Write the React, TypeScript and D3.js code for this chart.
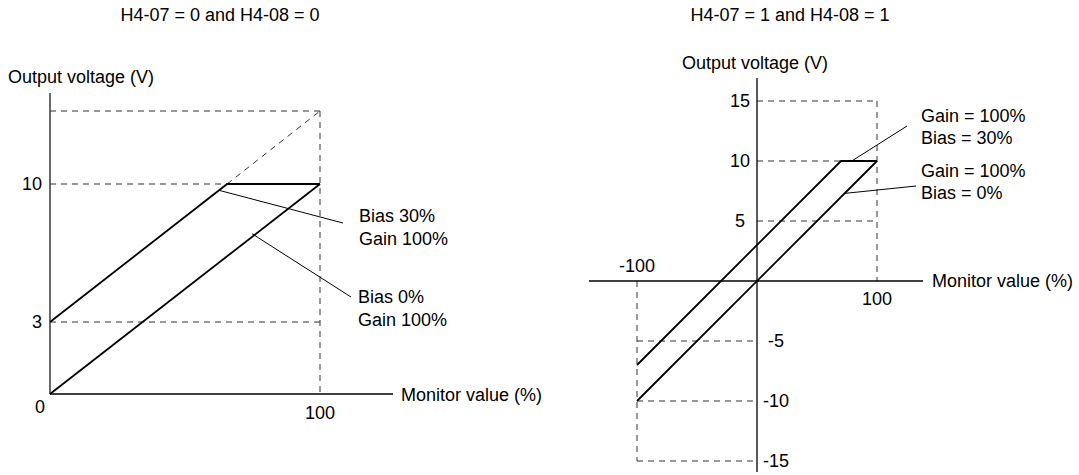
import React from "react";
import * as d3 from "d3";

// ---------- Data ----------
const leftTitle = "H4-07 = 0 and H4-08 = 0";
const rightTitle = "H4-07 = 1 and H4-08 = 1";
const yAxisLabel = "Output voltage (V)";
const xAxisLabel = "Monitor value (%)";

// Left chart (schematic, unipolar)
const leftYDomain = [0, 3, 10, 13];
const leftYTicks = [3, 10];
const leftXTickLabel = [100];
const leftBias0 = [
  { x: 0, y: 0 },
  { x: 100, y: 10 },
];
const leftBias30 = [
  { x: 0, y: 3 },
  { x: 65.6, y: 10 },
  { x: 100, y: 10 },
];
const leftBias30Ext = [
  { x: 65.6, y: 10 },
  { x: 100, y: 13 },
];
const leftNotes = [
  { lines: ["Bias 30%", "Gain 100%"], series: "bias30", at: 62.6 },
  { lines: ["Bias 0%", "Gain 100%"], series: "bias0", at: 74.8 },
];

// Right chart (bipolar)
const rightYTicks = [15, 10, 5, -5, -10, -15];
const rightXTicks = [-100, 100];
const rightBias0 = [
  { x: -100, y: -10 },
  { x: 100, y: 10 },
];
const rightBias30 = [
  { x: -100, y: -7 },
  { x: 70, y: 10 },
  { x: 100, y: 10 },
];
const rightNotes = [
  { lines: ["Gain = 100%", "Bias = 30%"], series: "bias30", at: 79 },
  { lines: ["Gain = 100%", "Bias = 0%"], series: "bias0", at: 73 },
];

// ---------- Styles ----------
const FONT = "'Liberation Sans', Arial, Helvetica, sans-serif";
const FS = 18;
const DASH = "6,5";
const dashColor = "#333";
const axisColor = "#444";

type P = { x: number; y: number };

function LeftChart() {
  const x = d3.scaleLinear().domain([0, 100]).range([50, 320]);
  const y = d3.scaleLinear().domain(leftYDomain).range([394, 322, 184, 111]);
  const line = d3
    .line<P>()
    .x((d) => x(d.x))
    .y((d) => y(d.y));
  const yAt = (s: string, xv: number) => {
    if (s === "bias0") return (xv / 100) * 10;
    const pts = xv <= 65.6 ? [leftBias30[0], leftBias30[1]] : [leftBias30Ext[0], leftBias30Ext[1]];
    return pts[0].y + ((xv - pts[0].x) / (pts[1].x - pts[0].x)) * (pts[1].y - pts[0].y);
  };
  const x0 = x(0);
  const y0 = y(0);
  const xMax = x(100);
  const yTop = y(13);
  const noteEnds = [
    { lx: 343, ly: 223, tx: 359, ty: 222 },
    { lx: 351, ly: 297, tx: 358, ty: 303 },
  ];
  return (
    <g>
      <text x={220} y={21} textAnchor="middle" fontSize={FS}>
        {leftTitle}
      </text>
      <text x={8} y={83} fontSize={FS}>
        {yAxisLabel}
      </text>
      {/* dashed guides */}
      {[...leftYTicks, 13].map((t) => (
        <line key={t} x1={x0} x2={xMax} y1={y(t)} y2={y(t)} stroke={dashColor} strokeWidth={1} strokeDasharray={DASH} />
      ))}
      <line x1={xMax} x2={xMax} y1={yTop} y2={y0} stroke={dashColor} strokeWidth={1} strokeDasharray={DASH} />
      <path d={line(leftBias30Ext) || ""} fill="none" stroke={dashColor} strokeWidth={1} strokeDasharray={DASH} />
      {/* axes */}
      <line x1={x0} x2={x0} y1={93} y2={y0} stroke={axisColor} strokeWidth={1.6} />
      <line x1={x0} x2={393} y1={y0} y2={y0} stroke="#000" strokeWidth={1.4} />
      <text x={401} y={401} fontSize={FS}>
        {xAxisLabel}
      </text>
      {/* tick labels */}
      {leftYTicks.map((t) => (
        <text key={t} x={42} y={y(t)} dy="0.35em" textAnchor="end" fontSize={FS}>
          {t}
        </text>
      ))}
      <text x={40} y={413} textAnchor="middle" fontSize={FS}>
        0
      </text>
      {leftXTickLabel.map((t) => (
        <text key={t} x={x(t)} y={419} textAnchor="middle" fontSize={FS}>
          {t}
        </text>
      ))}
      {/* series */}
      <path d={line(leftBias0) || ""} fill="none" stroke="#000" strokeWidth={1.8} />
      <path d={line(leftBias30) || ""} fill="none" stroke="#000" strokeWidth={1.8} />
      {/* annotations */}
      {leftNotes.map((n, i) => (
        <g key={i}>
          <line
            x1={x(n.at)}
            y1={y(yAt(n.series, n.at))}
            x2={noteEnds[i].lx}
            y2={noteEnds[i].ly}
            stroke="#000"
            strokeWidth={1}
          />
          {n.lines.map((s, j) => (
            <text key={j} x={noteEnds[i].tx} y={noteEnds[i].ty + j * 22.5} fontSize={FS}>
              {s}
            </text>
          ))}
        </g>
      ))}
    </g>
  );
}

function RightChart() {
  const x = d3.scaleLinear().domain([-100, 100]).range([637, 877]);
  const y = d3.scaleLinear().domain([-15, 15]).range([461, 101]);
  const line = d3
    .line<P>()
    .x((d) => x(d.x))
    .y((d) => y(d.y));
  const yAt = (s: string, xv: number) => {
    if (s === "bias0") return xv / 10;
    if (xv >= 70) return 10;
    return -7 + ((xv + 100) / 170) * 17;
  };
  const x0 = x(0);
  const y0 = y(0);
  const noteEnds = [
    { lx: 907, ly: 126, tx: 921, ty: 122 },
    { lx: 916, ly: 186, tx: 921, ty: 177 },
  ];
  return (
    <g>
      <text x={790} y={21} textAnchor="middle" fontSize={FS}>
        {rightTitle}
      </text>
      <text x={682} y={69} fontSize={FS}>
        {yAxisLabel}
      </text>
      {/* dashed guides */}
      {rightYTicks.map((t) => (
        <line
          key={t}
          x1={t > 0 ? x0 : x(-100)}
          x2={t > 0 ? x(100) : x0}
          y1={y(t)}
          y2={y(t)}
          stroke={dashColor}
          strokeWidth={1}
          strokeDasharray={DASH}
        />
      ))}
      <line x1={x(100)} x2={x(100)} y1={y(15)} y2={y0} stroke={dashColor} strokeWidth={1} strokeDasharray={DASH} />
      <line x1={x(-100)} x2={x(-100)} y1={y0} y2={y(-15)} stroke={dashColor} strokeWidth={1} strokeDasharray={DASH} />
      {/* axes */}
      <line x1={x0} x2={x0} y1={78} y2={472} stroke="#000" strokeWidth={1.3} />
      <line x1={589} x2={923} y1={y0} y2={y0} stroke="#000" strokeWidth={1.3} />
      <text x={932} y={287} fontSize={FS}>
        {xAxisLabel}
      </text>
      {/* tick labels */}
      {rightYTicks.map((t) => (
        <text key={t} x={t > 0 ? 740 : 776} y={y(t)} dy="0.35em" textAnchor="middle" fontSize={FS}>
          {t}
        </text>
      ))}
      {rightXTicks.map((t) => (
        <text key={t} x={x(t)} y={t < 0 ? 272 : 305} textAnchor="middle" fontSize={FS}>
          {t}
        </text>
      ))}
      {/* series */}
      <path d={line(rightBias0) || ""} fill="none" stroke="#000" strokeWidth={1.8} />
      <path d={line(rightBias30) || ""} fill="none" stroke="#000" strokeWidth={1.8} />
      {/* annotations */}
      {rightNotes.map((n, i) => (
        <g key={i}>
          <line
            x1={x(n.at)}
            y1={y(yAt(n.series, n.at))}
            x2={noteEnds[i].lx}
            y2={noteEnds[i].ly}
            stroke="#000"
            strokeWidth={1}
          />
          {n.lines.map((s, j) => (
            <text key={j} x={noteEnds[i].tx} y={noteEnds[i].ty + j * 22} fontSize={FS}>
              {s}
            </text>
          ))}
        </g>
      ))}
    </g>
  );
}

export default function App() {
  return (
    <svg
      width={1079}
      height={475}
      style={{ position: "absolute", left: 0, top: 0, background: "#fff" }}
      fontFamily={FONT}
      fill="#000"
    >
      <rect width={1079} height={475} fill="#fff" />
      <LeftChart />
      <RightChart />
    </svg>
  );
}
